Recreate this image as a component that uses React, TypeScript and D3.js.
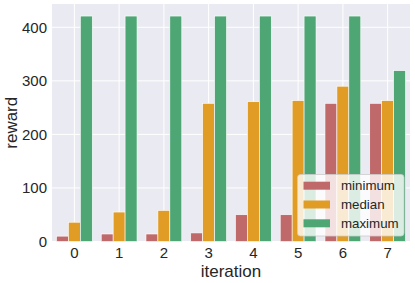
import React from "react";
import * as d3 from "d3";

const iterations = ["0", "1", "2", "3", "4", "5", "6", "7"];
const minimum = [10, 14, 14, 16, 50, 50, 258, 258];
const median = [36, 55, 58, 258, 261, 263, 290, 263];
const maximum = [421, 421, 421, 421, 421, 421, 421, 319];
const seriesNames = ["minimum", "median", "maximum"];
const seriesColors = ["#C0696B", "#E09C24", "#4DA674"];
const yTicks = [0, 100, 200, 300, 400];

const W = 415;
const H = 283;
const M = { left: 52, right: 5, top: 4, bottom: 41.5 };
const FONT = "'Liberation Sans', Arial, sans-serif";

export default function App() {
  const series = [minimum, median, maximum];
  const x = d3
    .scaleBand<string>()
    .domain(iterations)
    .range([M.left, W - M.right])
    .paddingInner(0)
    .paddingOuter(0);
  const inner = d3
    .scaleBand<string>()
    .domain(seriesNames)
    .range([0, x.bandwidth() * 0.8]);
  const y = d3.scaleLinear().domain([0, 443.5]).range([H - M.bottom, M.top]);
  const y0 = y(0);

  return (
    <div style={{ position: "fixed", left: 0, top: 0 }}>
      <svg width={W} height={H} style={{ display: "block", background: "#fff" }}>
        <rect
          x={M.left}
          y={M.top}
          width={W - M.left - M.right}
          height={y0 - M.top}
          fill="#EAEAF2"
        />
        {yTicks.map((t) => (
          <line
            key={"g" + t}
            x1={M.left}
            x2={W - M.right}
            y1={y(t)}
            y2={y(t)}
            stroke="#fff"
            strokeWidth={1}
          />
        ))}
        {iterations.map((it) => (
          <line
            key={"vg" + it}
            x1={x(it)! + x.bandwidth() / 2}
            x2={x(it)! + x.bandwidth() / 2}
            y1={M.top}
            y2={y0}
            stroke="#fff"
            strokeWidth={1}
          />
        ))}
        {iterations.map((it, i) => {
          const gx = x(it)! + x.bandwidth() * 0.1;
          return seriesNames.map((s, k) => {
            const v = series[k][i];
            return (
              <rect
                key={it + s}
                x={gx + inner(s)!}
                y={y(v)}
                width={inner.bandwidth()}
                height={y0 - y(v)}
                fill={seriesColors[k]}
                stroke="#fff"
                strokeWidth={0.6}
              />
            );
          });
        })}
        {yTicks.map((t) => (
          <text
            key={"yt" + t}
            x={47}
            y={y(t)}
            dy="0.36em"
            textAnchor="end"
            fontFamily={FONT}
            fontSize={15}
            fill="#262626"
          >
            {t}
          </text>
        ))}
        {iterations.map((it) => (
          <text
            key={"xt" + it}
            x={x(it)! + x.bandwidth() / 2}
            y={258}
            textAnchor="middle"
            fontFamily={FONT}
            fontSize={15}
            fill="#262626"
          >
            {it}
          </text>
        ))}
        <text
          x={(M.left + W - M.right) / 2}
          y={276.5}
          textAnchor="middle"
          fontFamily={FONT}
          fontSize={17}
          fill="#262626"
        >
          iteration
        </text>
        <text
          transform={`translate(17,${(M.top + y0) / 2}) rotate(-90)`}
          textAnchor="middle"
          fontFamily={FONT}
          fontSize={17}
          fill="#262626"
        >
          reward
        </text>
        <g>
          <rect
            x={297.5}
            y={174.5}
            width={106.5}
            height={61.5}
            rx={3}
            fill="#fff"
            fillOpacity={0.8}
            stroke="#cccccc"
            strokeWidth={0.8}
          />
          {seriesNames.map((s, k) => {
            const cy = 185.7 + k * 18.8;
            return (
              <g key={"lg" + s}>
                <rect x={303.5} y={cy - 4} width={26.5} height={8} fill={seriesColors[k]} />
                <text
                  x={341}
                  y={cy}
                  dy="0.36em"
                  fontFamily={FONT}
                  fontSize={13.3}
                  fill="#262626"
                >
                  {s}
                </text>
              </g>
            );
          })}
        </g>
      </svg>
    </div>
  );
}
